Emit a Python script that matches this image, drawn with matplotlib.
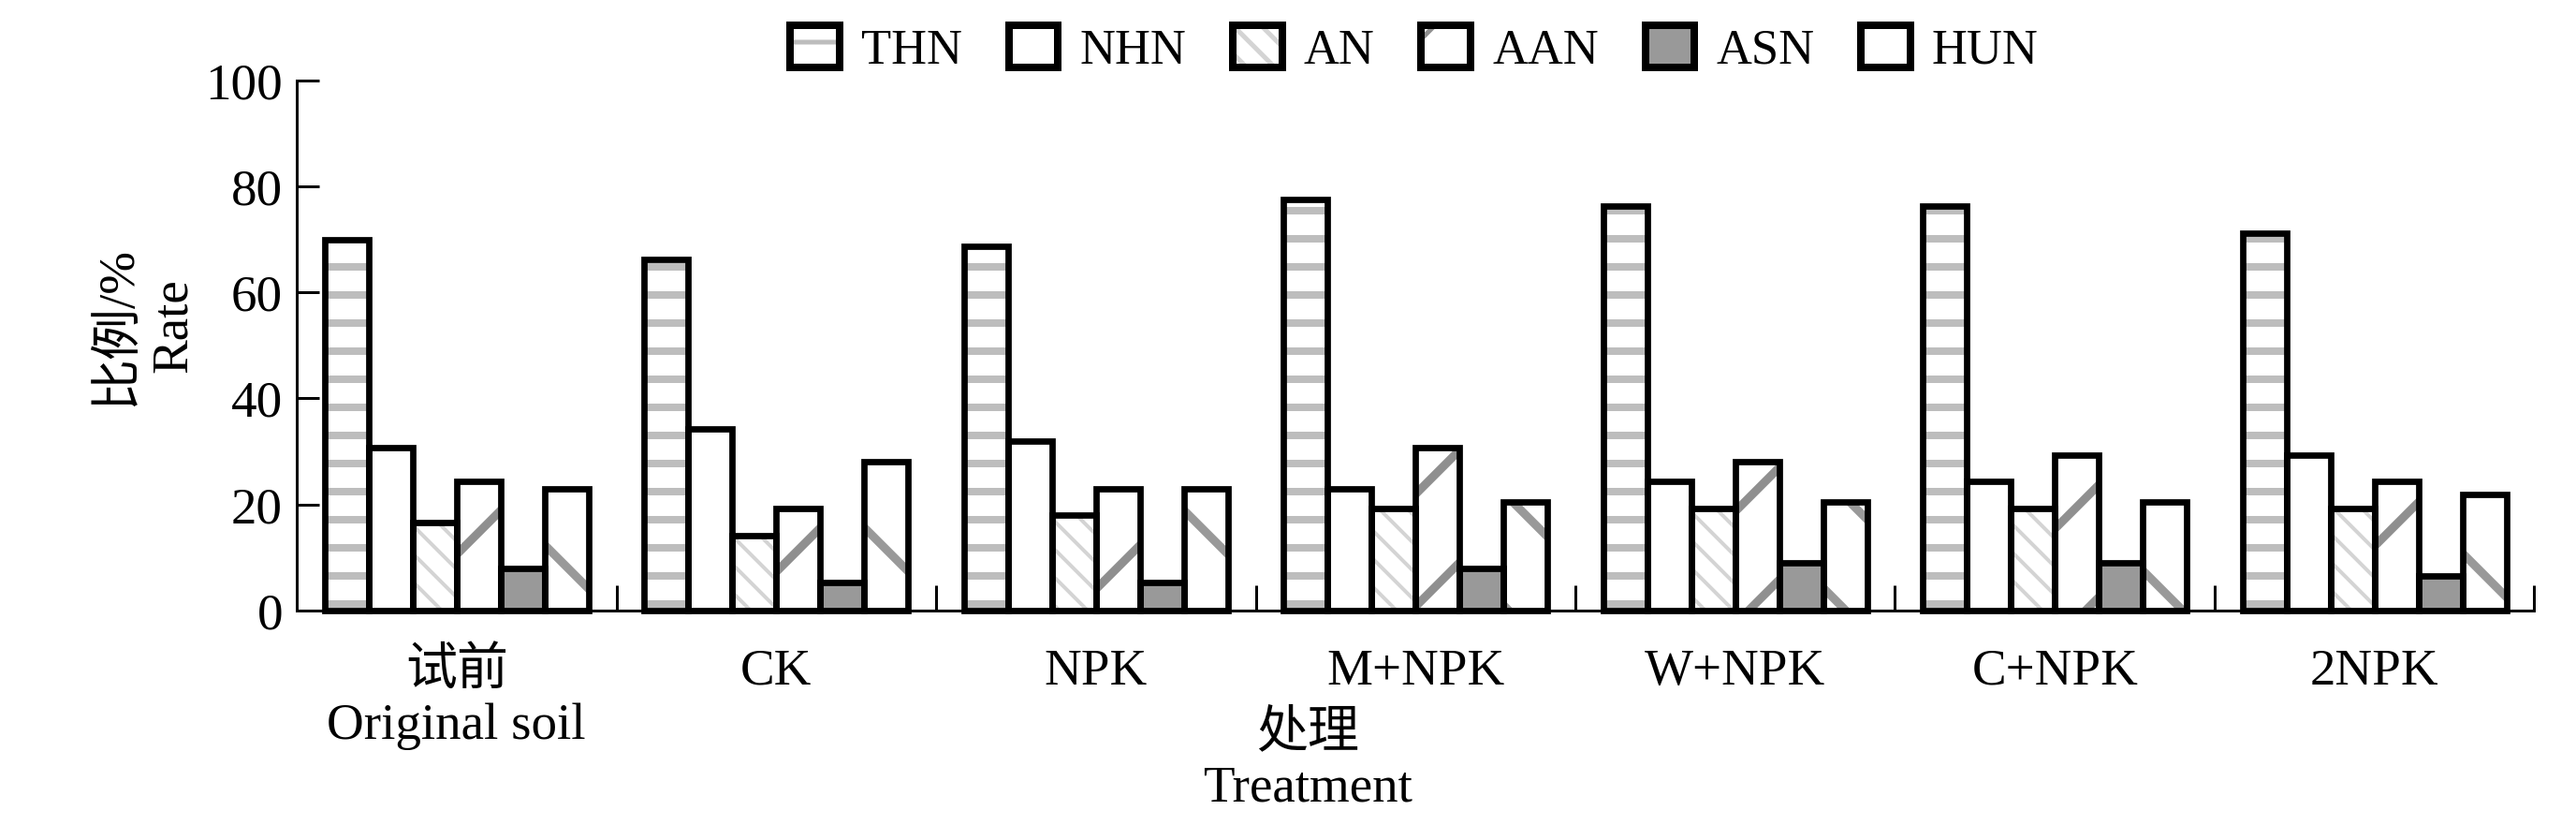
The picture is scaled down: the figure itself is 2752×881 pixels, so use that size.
import matplotlib
matplotlib.use('Agg')
import matplotlib.pyplot as plt
import numpy as np
from matplotlib.patches import Patch

plt.rcParams['font.family'] = ['Liberation Serif', 'Noto Sans CJK SC']

# Data (% of total N)
treatments = ['试前\nOriginal soil', 'CK', 'NPK', 'M+NPK', 'W+NPK', 'C+NPK', '2NPK']
fractions = ['THN', 'NHN', 'AN', 'AAN', 'ASN', 'HUN']
thn = [70.0, 66.2, 68.7, 77.5, 76.2, 76.2, 71.2]
nhn = [30.7, 34.3, 32.0, 22.9, 24.3, 24.3, 29.3]
an = [16.6, 14.1, 18.0, 19.3, 19.3, 19.3, 19.3]
aan = [24.4, 19.3, 22.9, 30.7, 28.1, 29.3, 24.3]
asn = [7.9, 5.3, 5.3, 7.9, 9.0, 9.0, 6.5]
hun = [23.0, 28.1, 22.9, 20.5, 20.5, 20.5, 21.8]
series = [thn, nhn, an, aan, asn, hun]

# face colour, hatch colour, hatch, hatch line width
styles = [
    ('white', '#bdbdbd', '--', 1.6),
    ('white', 'white', '', 1.0),
    ('white', '#d4d4d4', '\\\\\\\\', 0.8),
    ('white', '#8f8f8f', '/', 1.8),
    ('#999999', '#999999', '', 1.0),
    ('white', '#999999', '\\', 1.8),
]

DPI = 360
fig = plt.figure(figsize=((2752 + 0.3) / DPI, (881 + 0.3) / DPI), dpi=DPI)
ax = fig.add_axes([0.1152, 0.26, 0.8685, 0.6424])

x = np.arange(len(treatments))
w = 0.1376

# hatch/fill layer first, then the black outlines on top
for j, vals in enumerate(series):
    face, hcol, hatch, hlw = styles[j]
    bars = ax.bar(x + (j - 2.5) * w, vals, w, color=face, edgecolor=hcol,
                  hatch=hatch, linewidth=0, zorder=2)
    for b in bars:
        if hasattr(b, 'set_hatch_linewidth'):
            b.set_hatch_linewidth(hlw)
for j, vals in enumerate(series):
    ax.bar(x + (j - 2.5) * w, vals, w, fill=False, edgecolor='black',
           linewidth=1.35, zorder=3, clip_on=False)

ax.set_xlim(-0.5, 6.5)
ax.set_ylim(0, 100)
ax.set_yticks(range(0, 101, 20))
ax.set_xticks(x)
ax.set_xticklabels(treatments)
ax.set_xticks(x + 0.5, minor=True)

for s in ['top', 'right']:
    ax.spines[s].set_visible(False)
for s in ['left', 'bottom']:
    ax.spines[s].set_linewidth(0.6)

ax.tick_params(axis='y', direction='in', length=4.7, width=0.6, labelsize=11, pad=3)
ax.tick_params(axis='x', which='major', length=0, labelsize=11, pad=8)
ax.tick_params(axis='x', which='minor', direction='in', length=5.4, width=0.6)

fig.text(0.0567, 0.605, '比例/%\nRate', rotation=90, ha='center', va='center',
         fontsize=11, linespacing=1.25)
fig.text(0.5076, 0.078, '处理\nTreatment', ha='center', va='center',
         fontsize=11, linespacing=1.2)

# legend: hatch patch overlaid with a thick black border
handles = []
for j in range(len(fractions)):
    face, hcol, hatch, hlw = styles[j]
    p = Patch(facecolor=face, edgecolor=hcol, hatch=hatch, linewidth=0)
    if hasattr(p, 'set_hatch_linewidth'):
        p.set_hatch_linewidth(hlw)
    border = Patch(facecolor='none', edgecolor='black', linewidth=1.6)
    handles.append((p, border))

fig.legend(handles, fractions, loc='center', bbox_to_anchor=(0.549, 0.94),
           ncol=6, frameon=False, fontsize=10.5, handlelength=1.0,
           handleheight=0.95, handletextpad=0.44, columnspacing=0.95,
           borderpad=0)

fig.savefig('out.png', dpi=DPI)
